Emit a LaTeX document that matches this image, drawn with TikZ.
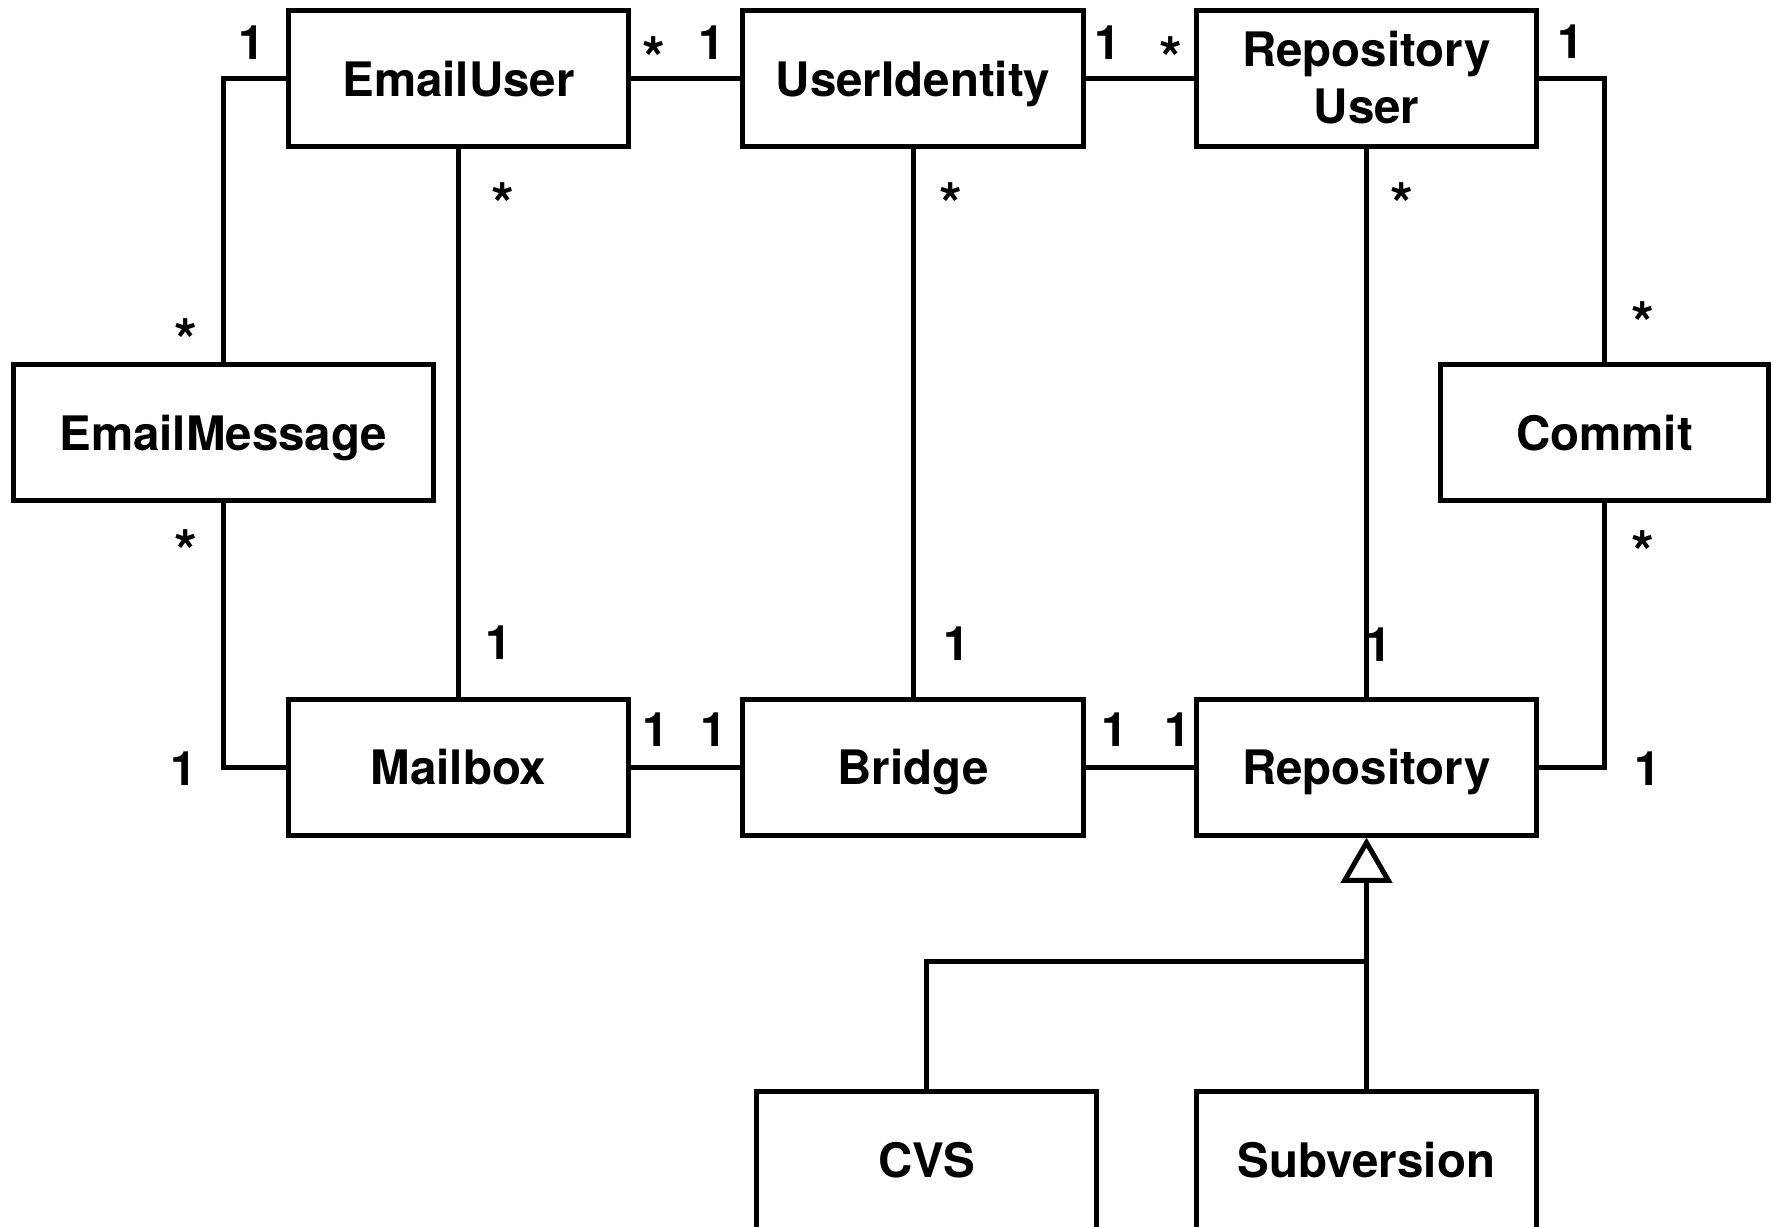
\documentclass[tikz,border=0pt]{standalone}
\usepackage{fontspec}
\setmainfont{TeX Gyre Heros}
\usetikzlibrary{arrows.meta}
\begin{document}
\begin{tikzpicture}[x=1pt,y=-1pt,
  cls/.style={draw, line width=4.4pt, minimum width=301pt, minimum height=120pt,
    inner sep=0pt, font=\fontsize{42}{51}\selectfont\bfseries,
    text height=31pt, text depth=0pt, align=center},
  conn/.style={line width=4.4pt},
  one/.style={font=\fontsize{42}{46}\selectfont\bfseries, inner sep=0pt,
    anchor=base, xshift=2.3pt, yshift=-14.8pt},
  star/.style={font=\fontsize{52}{56}\selectfont\bfseries, inner sep=0pt,
    anchor=base, yshift=-28.7pt}]
\useasboundingbox (0,0) rectangle (1568,1085);
\clip (0,0) rectangle (1568,1085);
% classes
\node[cls] (eu) at (405.5,69.5) {EmailUser};
\node[cls] (ui) at (807.5,69.5) {UserIdentity};
\node[cls, text height=82pt, text depth=2pt] (ru) at (1208.5,69.5) {Repository\\User};
\node[cls, minimum width=371pt, minimum height=121pt] (em) at (197.5,382.5) {EmailMessage};
\node[cls, minimum width=290pt, minimum height=121pt] (cm) at (1419,382.5) {Commit};
\node[cls] (mb) at (405.5,678.5) {Mailbox};
\node[cls] (br) at (807.5,678.5) {Bridge};
\node[cls] (rp) at (1208.5,678.5) {Repository};
\node[cls, minimum height=122pt] (cvs) at (819.5,1026) {CVS};
\node[cls, minimum height=122pt] (svn) at (1208.5,1026) {Subversion};
% associations
\draw[conn] (eu.east) -- (ui.west);
\draw[conn] (ui.east) -- (ru.west);
\draw[conn] (eu.west) -| (em.north);
\draw[conn] (em.south) |- (mb.west);
\draw[conn] (eu.south) -- (mb.north);
\draw[conn] (ui.south) -- (br.north);
\draw[conn] (ru.south) -- (rp.north);
\draw[conn] (ru.east) -| (cm.north);
\draw[conn] (cm.south) |- (rp.east);
\draw[conn] (mb.east) -- (br.west);
\draw[conn] (br.east) -- (rp.west);
% generalization
\coordinate (J) at (1208.5,850);
\draw[conn] (cvs.north) |- (J);
\draw[conn, -{Triangle[open,length=40pt,width=45pt]}] (svn.north) -- (rp.south);
% multiplicities
\node[one] (m1) at (220.5,37.5) {1};
\node[star] (m2) at (578,41.3) {*};
\node[one] (m3) at (626.7,37.5) {1};
\node[one] (m4) at (977.7,37.5) {1};
\node[star] (m5) at (1035.6,41.3) {*};
\node[one] (m6) at (1386.4,36.5) {1};
\node[star] (m7) at (444.4,171) {*};
\node[star] (m8) at (841,171) {*};
\node[star] (m9) at (1239.6,171) {*};
\node[star] (m10) at (164,291) {*};
\node[star] (m11) at (164,478) {*};
\node[star] (m12) at (1452.6,275.8) {*};
\node[star] (m13) at (1452.6,478.5) {*};
\node[one] (m14) at (439,568) {1};
\node[one] (m15) at (843.7,569) {1};
\node[one] (m16) at (1217,570.5) {1};
\node[one] (m17) at (160,679.5) {1};
\node[one] (m18) at (578,645.5) {1};
\node[one] (m19) at (628.7,645.5) {1};
\node[one] (m20) at (983.8,645.5) {1};
\node[one] (m21) at (1038.8,645.5) {1};
\node[one] (m22) at (1455,679.5) {1};
\end{tikzpicture}
\end{document}
